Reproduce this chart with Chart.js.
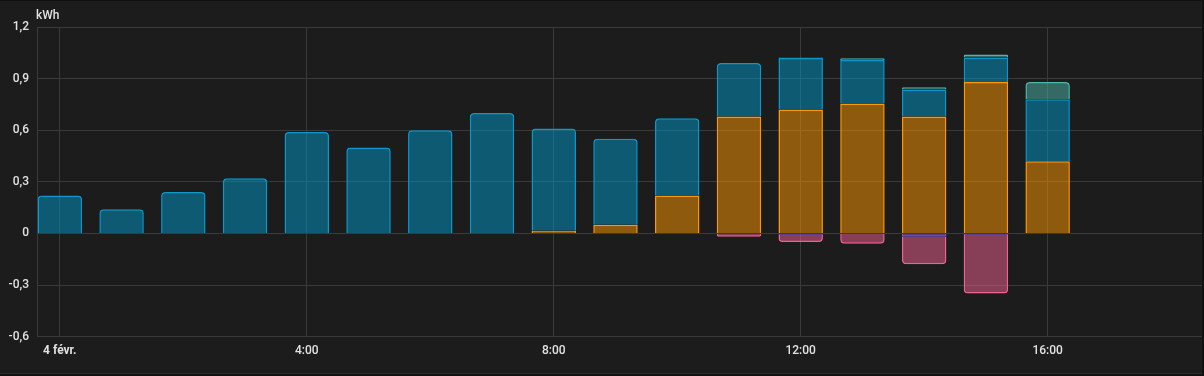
<!DOCTYPE html>
<html>
<head>
<meta charset="utf-8">
<script src="https://cdn.jsdelivr.net/npm/chart.js@4"></script>
<style>
  html, body { margin: 0; padding: 0; background: #111111; }
  #card { position: absolute; left: 0; width: 1202px; height: 372px; background: #1c1c1c; border-bottom: 1px solid #2c2c2c; }
</style>
</head>
<body>
<div id="card" style="top:1px"><canvas id="energyChart" width="1202" height="372"></canvas></div>
<script>
// Données (kWh par heure, 4 févr.)
const hours = [0, 1, 2, 3, 4, 5, 6, 7, 8, 9, 10, 11, 12, 13, 14, 15, 16];
const solar = [null, null, null, null, null, null, null, null, 0.015, 0.05, 0.22, 0.68, 0.72, 0.755, 0.68, 0.88, 0.42];
const gridIn = [0.22, 0.14, 0.24, 0.32, 0.59, 0.5, 0.6, 0.7, 0.595, 0.5, 0.45, 0.31, 0.3, 0.253, 0.157, 0.143, 0.36];
const batteryOut = [null, null, null, null, null, null, null, null, null, null, null, null, 0.003, 0.011, 0.012, 0.017, 0.1];
const gridReturn = [null, null, null, null, null, null, null, null, null, null, null, null, -0.01, null, -0.02, -0.01, null];
const batteryIn = [null, null, null, null, null, null, null, null, null, null, null, -0.02, -0.04, -0.06, -0.16, -0.34, -0.004];
const xTicks = [0, 4, 8, 12, 16];
const yTicks = [-0.6, -0.3, 0, 0.3, 0.6, 0.9, 1.2];

const toPoints = (arr) => hours.map((h, i) => ({ x: h, y: arr[i] }));

function makeSet(label, values, color, fill) {
  return {
    label,
    data: toPoints(values),
    backgroundColor: fill,
    borderColor: color,
    borderWidth: 1.5,
    borderRadius: 4,
    stack: "energy",
  };
}

// Titre d'axe "kWh" au-dessus de l'axe Y
const unitLabel = {
  id: "unitLabel",
  afterDraw(chart) {
    const { ctx, chartArea } = chart;
    ctx.save();
    ctx.font = "500 12px Roboto";
    ctx.fillStyle = "#e1e1e1";
    ctx.textAlign = "left";
    ctx.textBaseline = "bottom";
    ctx.fillText("kWh", chartArea.left - 1, chartArea.top - 5);
    ctx.restore();
  },
};

const fmt = (v) => (v === 0 ? "0" : v.toFixed(1).replace(".", ","));

new Chart(document.getElementById("energyChart").getContext("2d"), {
  type: "bar",
  data: {
    datasets: [
      makeSet("Solaire", solar, "#ff9800", "rgba(255,152,0,0.5)"),
      makeSet("Réseau", gridIn, "#0a98cc", "rgba(2,152,202,0.5)"),
      makeSet("Batterie (sortie)", batteryOut, "#4db6ac", "rgba(77,182,172,0.5)"),
      makeSet("Retour réseau", gridReturn, "#8353d1", "rgba(131,83,209,0.6)"),
      makeSet("Batterie (entrée)", batteryIn, "#f06292", "rgba(240,98,146,0.5)"),
    ],
  },
  options: {
    responsive: false,
    animation: false,
    layout: { padding: { top: 26, left: 0, right: 0, bottom: 8 } },
    plugins: { legend: { display: false }, tooltip: { enabled: false } },
    scales: {
      x: {
        type: "linear",
        stacked: true,
        min: -0.37,
        max: 18.5,
        offset: false,
        afterBuildTicks: (scale) => {
          scale.ticks = xTicks.map((v) => ({ value: v }));
        },
        grid: { color: "#3a3a3a", drawTicks: false, offset: false },
        border: { color: "#3a3a3a" },
        ticks: {
          padding: 7,
          color: "#e1e1e1",
          maxRotation: 0,
          font: (c) => ({
            family: "Roboto",
            size: 12,
            weight: c.tick && c.tick.value === 0 ? "bold" : "500",
          }),
          callback: (v) => (v === 0 ? "4 févr." : v + ":00"),
        },
      },
      y: {
        stacked: true,
        min: -0.6,
        max: 1.2,
        afterBuildTicks: (scale) => {
          scale.ticks = yTicks.map((v) => ({ value: v }));
        },
        afterFit: (scale) => {
          scale.width = 37;
        },
        grid: { color: "#3a3a3a", drawTicks: false },
        border: { color: "#3a3a3a" },
        ticks: {
          padding: 8,
          color: "#e1e1e1",
          font: { family: "Roboto", size: 12, weight: "500" },
          callback: (v) => fmt(v),
        },
      },
    },
  },
  plugins: [unitLabel],
});
</script>
</body>
</html>
